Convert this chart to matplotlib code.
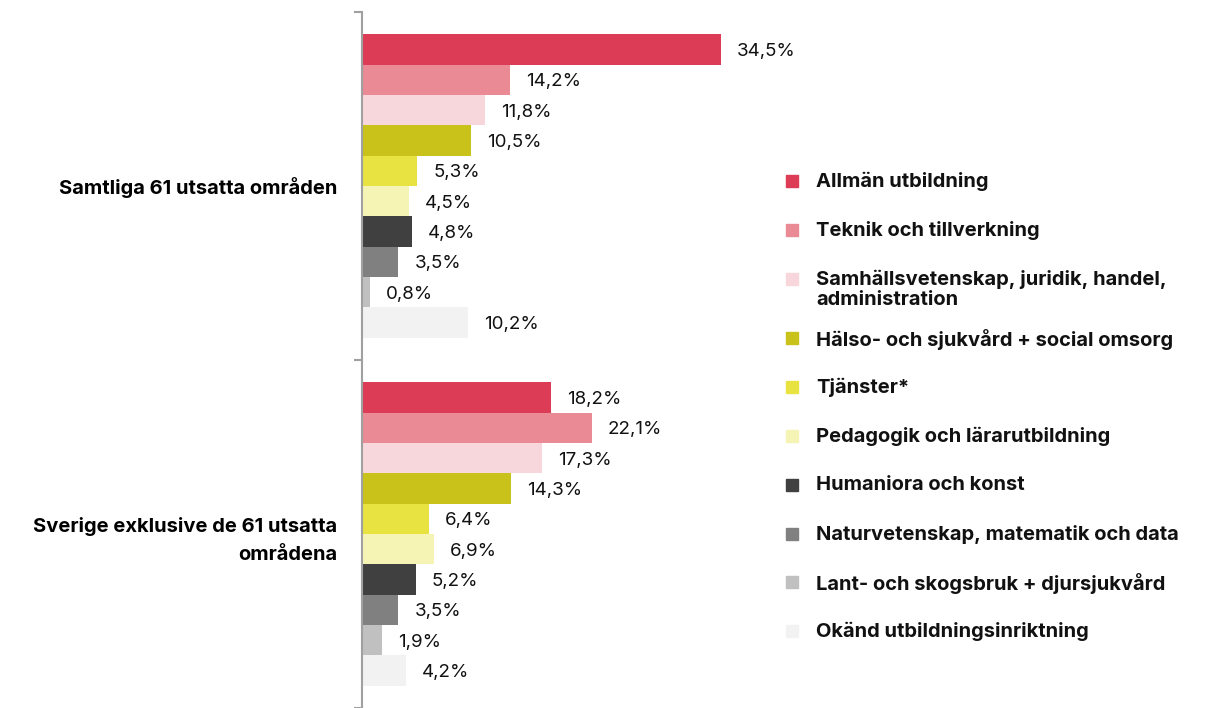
import numpy as np
import matplotlib.pyplot as plt
from matplotlib.patches import Rectangle

groups = ['Samtliga 61 utsatta områden', 'Sverige exklusive de 61 utsatta\nområdena']
fields = ['Allmän utbildning', 'Teknik och tillverkning',
          'Samhällsvetenskap, juridik, handel,\nadministration',
          'Hälso- och sjukvård + social omsorg', 'Tjänster*',
          'Pedagogik och lärarutbildning', 'Humaniora och konst',
          'Naturvetenskap, matematik och data',
          'Lant- och skogsbruk + djursjukvård', 'Okänd utbildningsinriktning']
colors = ['#dc3c55', '#e98a94', '#f8d7dc', '#c8c21a', '#e8e340',
          '#f6f4b5', '#404040', '#808080', '#c0c0c0', '#f2f2f2']
samtliga = [34.5, 14.2, 11.8, 10.5, 5.3, 4.5, 4.8, 3.5, 0.8, 10.2]
sverige = [18.2, 22.1, 17.3, 14.3, 6.4, 6.9, 5.2, 3.5, 1.9, 4.2]

plt.rcParams['font.family'] = ['Inter', 'DejaVu Sans']

W, H = 1214, 708
fig = plt.figure(figsize=(W / 100, H / 100), dpi=100)
ax = fig.add_axes([362 / W, 0, (760 - 362) / W, 696 / H])

values = np.array([samtliga, sverige])
n = len(fields)
h = 0.0871
for i in range(len(groups)):
    for j in range(n):
        y = i - n * h / 2 + (j + 0.5) * h
        v = values[i, j]
        ax.barh(y, v, height=h, color=colors[j], edgecolor='none')
        ax.annotate(f'{v:.1f}%'.replace('.', ','), (v, y), xytext=(11.5, -1.5),
                    textcoords='offset points', va='center', ha='left',
                    fontsize=13.5, color='#111111')

ax.set_xlim(0, 398 / 10.4)
ax.set_ylim(1.5 - 4 / 350, -0.5)
for s in ['top', 'right', 'bottom']:
    ax.spines[s].set_visible(False)
ax.spines['left'].set_color('#a0a0a0')
ax.spines['left'].set_linewidth(1.5)
ax.set_xticks([])
ax.set_yticks(range(len(groups)))
ax.set_yticklabels(groups, fontsize=14.5, fontweight='bold', linespacing=1.65)
ax.tick_params(axis='y', which='major', length=0, pad=18)
ax.set_yticks([-0.5, 0.5, 1.5], minor=True)
ax.tick_params(axis='y', which='minor', length=6, width=1.5, color='#a0a0a0')

# legend
yc = 181
for j in range(n):
    fy = 1 - yc / H
    fig.patches.append(Rectangle((786 / W, fy - 6 / H), 12 / W, 12 / H,
                                 transform=fig.transFigure, color=colors[j]))
    fig.text(816 / W, 1 - (yc - 9) / H, fields[j], ha='left', va='top',
             fontsize=14.5, fontweight='bold', color='#111111', linespacing=1.15)
    yc += 48.8 + 11 * fields[j].count('\n')

fig.savefig('out.png', dpi=100)
